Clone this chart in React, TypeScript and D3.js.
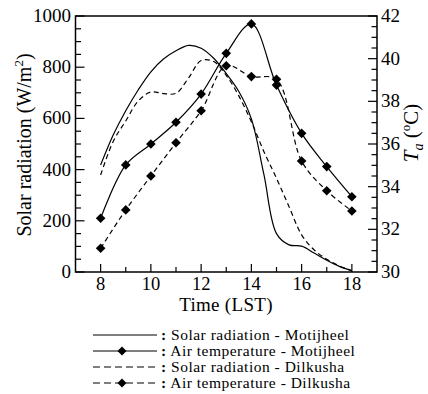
import React from 'react';
import * as d3 from 'd3';

// ---- data ----
const hours = [8, 9, 10, 11, 12, 13, 14, 15, 16, 17, 18];
const tempMotijheel = [32.52, 35.02, 36.0, 37.02, 38.34, 40.25, 41.63, 38.76, 36.5, 34.94, 33.53];
const tempDilkusha = [31.11, 32.91, 34.5, 36.06, 37.56, 39.67, 39.16, 39.03, 35.2, 33.81, 32.86];

const radHours = [8, 8.5, 9, 9.5, 10, 10.5, 11, 11.5, 12, 12.5, 13, 13.5, 14, 14.5, 15, 15.5, 16, 16.5, 17, 17.5, 18];
const radMotijheel = [418, 535, 630, 712, 782, 832, 864, 885, 874, 835, 775, 705, 598, 380, 150, 106, 101, 74, 46, 22, 5];
const radDilkusha = [379, 510, 590, 668, 703, 697, 698, 758, 826, 822, 768, 688, 587, 470, 366, 255, 145, 86, 50, 24, 5];

const xTicks = [8, 10, 12, 14, 16, 18];
const xMinor = [9, 11, 13, 15, 17];
const leftTicks = [0, 200, 400, 600, 800, 1000];
const rightTicks = [30, 32, 34, 36, 38, 40, 42];
const legendLabels = [
  'Solar radiation - Motijheel',
  'Air temperature - Motijheel',
  'Solar radiation - Dilkusha',
  'Air temperature - Dilkusha',
];

const FONT = "'Liberation Serif', 'Times New Roman', Times, 'DejaVu Serif', serif";

const x = d3.scaleLinear().domain([7, 19]).range([75.5, 377]);
const yL = d3.scaleLinear().domain([0, 1000]).range([272, 16]);
const yR = d3.scaleLinear().domain([30, 42]).range([272, 16]);

const curve = d3.curveCatmullRom.alpha(0.5);
const radLine = d3.line<number>().x((_, i) => x(radHours[i])).y((d) => yL(d)).curve(curve);
const tempLine = d3.line<number>().x((_, i) => x(hours[i])).y((d) => yR(d)).curve(curve);

const Diamond = ({ cx, cy, r = 4.8 }: { cx: number; cy: number; r?: number }) => (
  <path d={`M${cx},${cy - r}L${cx + r},${cy}L${cx},${cy + r}L${cx - r},${cy}Z`} fill="#000" />
);

const T = (props: any) => <text {...props} style={{ fontFamily: FONT, ...(props.style || {}) }} />;

export default function App() {
  const leftMinor = d3.range(0, 1001, 50).filter((v) => v % 200 !== 0);
  const rightMinor = d3.range(30, 42.01, 0.5).filter((v) => Math.abs(v % 2) > 0.01);
  const x0 = x.range()[0];
  const x1 = x.range()[1];
  const yb = yL.range()[0];
  const yt = yL.range()[1];
  const dash = '5,3.5';
  const legendY = [335, 351, 367, 383];
  return (
    <svg width={428} height={394} style={{ position: 'absolute', left: 0, top: 0, background: '#fff', fontFamily: FONT }}>
      <rect x={0} y={0} width={428} height={394} fill="#fff" />
      {/* series */}
      <path d={radLine(radMotijheel) || ''} fill="none" stroke="#000" strokeWidth={1.2} />
      <path d={radLine(radDilkusha) || ''} fill="none" stroke="#000" strokeWidth={1.2} strokeDasharray={dash} />
      <path d={tempLine(tempMotijheel) || ''} fill="none" stroke="#000" strokeWidth={1.2} />
      <path d={tempLine(tempDilkusha) || ''} fill="none" stroke="#000" strokeWidth={1.2} strokeDasharray={dash} />
      {tempMotijheel.map((v, i) => (
        <Diamond key={'m' + i} cx={x(hours[i])} cy={yR(v)} />
      ))}
      {tempDilkusha.map((v, i) => (
        <Diamond key={'d' + i} cx={x(hours[i])} cy={yR(v)} />
      ))}
      {/* frame */}
      <rect x={x0} y={yt} width={x1 - x0} height={yb - yt} fill="none" stroke="#000" strokeWidth={1.5} />
      {/* x ticks */}
      {xTicks.map((t) => (
        <g key={'xt' + t}>
          <line x1={x(t)} x2={x(t)} y1={yb} y2={yb - 8} stroke="#000" strokeWidth={1.2} />
          <T x={x(t)} y={290} textAnchor="middle" fontSize={18.5}>{t}</T>
        </g>
      ))}
      {xMinor.map((t) => (
        <line key={'xm' + t} x1={x(t)} x2={x(t)} y1={yb} y2={yb - 5} stroke="#000" strokeWidth={1.2} />
      ))}
      {/* left ticks */}
      {leftTicks.map((t) => (
        <g key={'lt' + t}>
          <line x1={x0} x2={x0 + 9} y1={yL(t)} y2={yL(t)} stroke="#000" strokeWidth={1.2} />
          <T x={71} y={yL(t) + 6} textAnchor="end" fontSize={19}>{t}</T>
        </g>
      ))}
      {leftMinor.map((t) => (
        <line key={'lm' + t} x1={x0} x2={x0 + 5.5} y1={yL(t)} y2={yL(t)} stroke="#000" strokeWidth={1.2} />
      ))}
      {/* right ticks */}
      {rightTicks.map((t) => (
        <g key={'rt' + t}>
          <line x1={x1} x2={x1 - 9} y1={yR(t)} y2={yR(t)} stroke="#000" strokeWidth={1.2} />
          <T x={381} y={yR(t) + 6} textAnchor="start" fontSize={19}>{t}</T>
        </g>
      ))}
      {rightMinor.map((t) => (
        <line key={'rm' + t} x1={x1} x2={x1 - 5.5} y1={yR(t)} y2={yR(t)} stroke="#000" strokeWidth={1.2} />
      ))}
      {/* axis titles */}
      <T x={226} y={311} textAnchor="middle" fontSize={19} style={{ letterSpacing: '0.3px' }}>Time (LST)</T>
      <T transform="translate(31,145) rotate(-90)" textAnchor="middle" fontSize={20}>
        Solar radiation (W/m<tspan dy={-8} fontSize={13}>2</tspan><tspan dy={8}>)</tspan>
      </T>
      <T transform="translate(418,133) rotate(-90)" textAnchor="middle" fontSize={21}>
        <tspan fontStyle="italic">T</tspan>
        <tspan fontStyle="italic" fontSize={14} dy={5}>a</tspan>
        <tspan dy={-5}> (</tspan>
        <tspan fontSize={13} dy={-8}>o</tspan>
        <tspan dy={8}>C)</tspan>
      </T>
      {/* legend */}
      {legendLabels.map((lab, i) => {
        const ly = legendY[i];
        const dashed = i >= 2;
        const marker = i === 1 || i === 3;
        return (
          <g key={'lg' + i}>
            <line x1={93} x2={157} y1={ly} y2={ly} stroke="#000" strokeWidth={1.2} strokeDasharray={dashed ? '7,4' : undefined} />
            {marker && <Diamond cx={122} cy={ly} r={4.5} />}
            <T x={161} y={ly + 4.5} fontSize={15.5} style={{ letterSpacing: '0.5px' }}>
              <tspan fontWeight="bold">:</tspan> {lab}
            </T>
          </g>
        );
      })}
    </svg>
  );
}
